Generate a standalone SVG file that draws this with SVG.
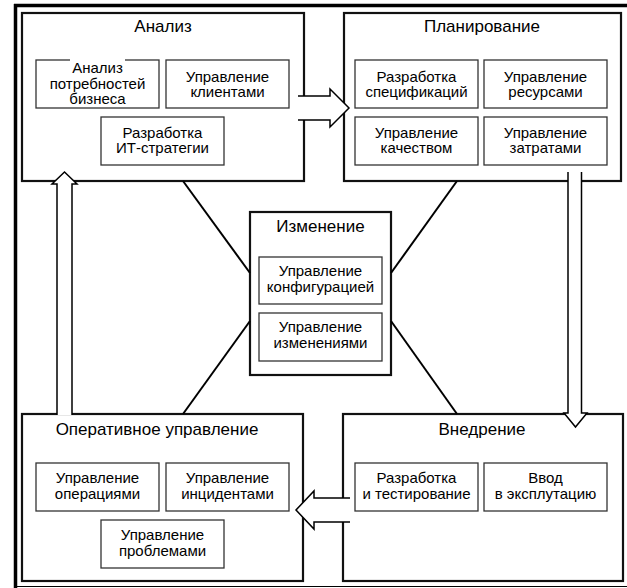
<svg xmlns="http://www.w3.org/2000/svg" width="627" height="588" viewBox="0 0 627 588">
  <style>
    .frame { fill: none; stroke: #000; }
    .box { fill: #fff; stroke: #111; stroke-width: 2.2; }
    .sub { fill: #fff; stroke: #333; stroke-width: 1.3; }
    .title { font-family: "Liberation Sans", Arial, sans-serif; font-size: 17px; fill: #000; text-anchor: middle; }
    .txt { font-family: "Liberation Sans", Arial, sans-serif; font-size: 15px; fill: #000; text-anchor: middle; }
    .link { stroke: #000; stroke-width: 2; fill: none; }
    .arrow-fill { fill: #fff; stroke: none; }
    .arrow-line { fill: none; stroke: #000; stroke-width: 1.5; stroke-linejoin: miter; }
  </style>

  <rect x="0" y="0" width="627" height="588" fill="#fff"/>

  <!-- outer frame -->
  <g id="frame">
    <line class="frame" x1="15.5" y1="4" x2="15.5" y2="588" stroke-width="3.5"/>
    <line class="frame" x1="14" y1="5.5" x2="627" y2="5.5" stroke-width="3.5"/>
    <line class="frame" x1="14" y1="586.5" x2="627" y2="586.5" stroke-width="1"/>
  </g>

  <!-- Analysis -->
  <g id="analysis">
    <rect class="box" x="22" y="13" width="282" height="168"/>
    <text class="title" x="163" y="32">Анализ</text>
    <rect class="sub" x="36" y="60" width="123" height="48"/>
    <rect x="70" y="58" width="55" height="5" fill="#fff"/>
    <text class="txt" x="97.5" y="73">Анализ</text>
    <text class="txt" x="97.5" y="89">потребностей</text>
    <text class="txt" x="97.5" y="104">бизнеса</text>
    <rect class="sub" x="166" y="60" width="123" height="48"/>
    <text class="txt" x="227.5" y="82">Управление</text>
    <text class="txt" x="227.5" y="97">клиентами</text>
    <rect class="sub" x="101" y="117" width="123" height="48"/>
    <text class="txt" x="162.5" y="138">Разработка</text>
    <text class="txt" x="162.5" y="153">ИТ-стратегии</text>
  </g>

  <!-- Planning -->
  <g id="planning">
    <rect class="box" x="344" y="13" width="277" height="168"/>
    <text class="title" x="482" y="32">Планирование</text>
    <rect class="sub" x="355" y="60" width="123" height="48"/>
    <text class="txt" x="416.5" y="82">Разработка</text>
    <text class="txt" x="416.5" y="97">спецификаций</text>
    <rect class="sub" x="484" y="60" width="123" height="48"/>
    <text class="txt" x="545.5" y="82">Управление</text>
    <text class="txt" x="545.5" y="97">ресурсами</text>
    <rect class="sub" x="355" y="117" width="123" height="48"/>
    <text class="txt" x="416.5" y="138">Управление</text>
    <text class="txt" x="416.5" y="153">качеством</text>
    <rect class="sub" x="484" y="117" width="123" height="48"/>
    <text class="txt" x="545.5" y="138">Управление</text>
    <text class="txt" x="545.5" y="153">затратами</text>
  </g>

  <!-- Operations -->
  <g id="operations">
    <rect class="box" x="22" y="414" width="281" height="167"/>
    <text class="title" x="157" y="435">Оперативное управление</text>
    <rect class="sub" x="36" y="463" width="123" height="48"/>
    <text class="txt" x="97.5" y="483">Управление</text>
    <text class="txt" x="97.5" y="499">операциями</text>
    <rect class="sub" x="166" y="463" width="123" height="48"/>
    <text class="txt" x="227.5" y="483">Управление</text>
    <text class="txt" x="227.5" y="499">инцидентами</text>
    <rect class="sub" x="101" y="520" width="123" height="48"/>
    <text class="txt" x="162.5" y="540">Управление</text>
    <text class="txt" x="162.5" y="556">проблемами</text>
  </g>

  <!-- Deployment -->
  <g id="deployment">
    <rect class="box" x="343" y="414" width="280" height="167"/>
    <text class="title" x="482" y="435">Внедрение</text>
    <rect class="sub" x="355" y="463" width="123" height="48"/>
    <text class="txt" x="416.5" y="483">Разработка</text>
    <text class="txt" x="416.5" y="499">и тестирование</text>
    <rect class="sub" x="484" y="463" width="123" height="48"/>
    <text class="txt" x="545.5" y="483">Ввод</text>
    <text class="txt" x="545.5" y="499">в эксплутацию</text>
  </g>

  <!-- Change (centre) -->
  <g id="change">
    <rect class="box" x="250" y="212" width="141" height="163"/>
    <text class="title" x="320.5" y="232">Изменение</text>
    <rect class="sub" x="259" y="257" width="123" height="47"/>
    <text class="txt" x="320.5" y="276">Управление</text>
    <text class="txt" x="320.5" y="292">конфигурацией</text>
    <rect class="sub" x="259" y="313" width="123" height="48"/>
    <text class="txt" x="320.5" y="332">Управление</text>
    <text class="txt" x="320.5" y="348">изменениями</text>
  </g>

  <!-- connectors -->
  <g id="connectors">
    <line class="link" x1="183" y1="181" x2="250" y2="273"/>
    <line class="link" x1="457" y1="181" x2="391" y2="273"/>
    <line class="link" x1="250" y1="321" x2="183" y2="414"/>
    <line class="link" x1="391" y1="321" x2="457" y2="414"/>

    <!-- Analysis -> Planning -->
    <polygon class="arrow-fill" points="298,96 330,96 330,89 349,108 330,127 330,120 298,120"/>
    <polyline class="arrow-line" points="298,96 330,96 330,89 349,108 330,127 330,120 298,120"/>

    <!-- Planning -> Deployment -->
    <polygon class="arrow-fill" points="568,172 568,413 564,413 575.5,427 587,413 581.5,413 581.5,172"/>
    <polyline class="arrow-line" points="568,172 568,413 564,413 575.5,427 587,413 581.5,413 581.5,172"/>

    <!-- Deployment -> Operations -->
    <polygon class="arrow-fill" points="350,498 314,498 314,491 296,510 314,529 314,522 350,522"/>
    <polyline class="arrow-line" points="350,498 314,498 314,491 296,510 314,529 314,522 350,522"/>

    <!-- Operations -> Analysis -->
    <polygon class="arrow-fill" points="57,415 57,184 52,184 64.5,172 77,184 72,184 72,415"/>
    <polyline class="arrow-line" points="57,415 57,184 52,184 64.5,172 77,184 72,184 72,415"/>
  </g>
</svg>
